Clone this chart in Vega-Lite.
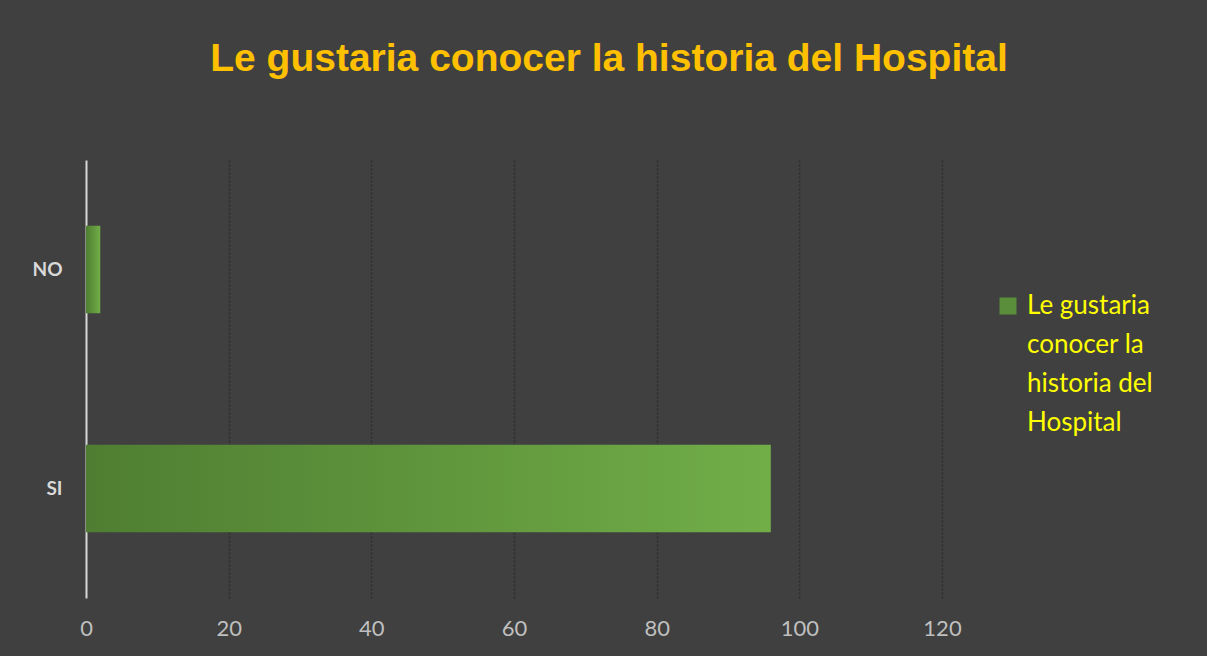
{
  "$schema": "https://vega.github.io/schema/vega-lite/v6.json",
  "width": 856,
  "height": 438,
  "autosize": {"type": "none"},
  "padding": {"left": 86, "top": 160, "right": 265, "bottom": 58},
  "background": "#404040",
  "title": {
    "text": "Le gustaria conocer la historia del Hospital",
    "font": "Liberation Sans, Arial, sans-serif",
    "fontSize": 39,
    "fontWeight": "bold",
    "color": "#FFC000",
    "anchor": "middle",
    "frame": "group",
    "baseline": "alphabetic",
    "offset": 50,
    "dx": 95
  },
  "data": {
    "values": [
      {"respuesta": "NO", "valor": 2, "serie": "Le gustaria conocer la historia del Hospital"},
      {"respuesta": "SI", "valor": 96, "serie": "Le gustaria conocer la historia del Hospital"}
    ]
  },
  "encoding": {
    "y": {
      "field": "respuesta",
      "type": "nominal",
      "sort": ["NO", "SI"],
      "scale": {"paddingInner": 0.6, "paddingOuter": 0.3},
      "axis": {
        "title": null,
        "ticks": false,
        "domain": true,
        "domainColor": "#d9d9d9",
        "domainWidth": 2,
        "labelColor": "#d9d9d9",
        "labelFont": "Lato",
        "labelFontSize": 19,
        "labelFontWeight": "bold",
        "labelPadding": 24,
        "grid": false
      }
    },
    "x": {
      "field": "valor",
      "type": "quantitative",
      "scale": {"domain": [0, 120], "nice": false},
      "axis": {
        "title": null,
        "values": [0, 20, 40, 60, 80, 100, 120],
        "ticks": false,
        "domain": false,
        "grid": true,
        "gridColor": "#2e2e2e",
        "gridDash": [2, 2],
        "gridWidth": 1.5,
        "labelColor": "#bfbfbf",
        "labelFont": "Lato",
        "labelFontSize": 22,
        "labelFlush": false,
        "labelPadding": 20
      }
    }
  },
  "layer": [
    {
      "mark": {
        "type": "bar",
        "color": {
          "gradient": "linear",
          "x1": 0, "y1": 0, "x2": 1, "y2": 0,
          "stops": [
            {"offset": 0, "color": "#4f7e32"},
            {"offset": 0.5, "color": "#5f953c"},
            {"offset": 1, "color": "#71ae48"}
          ]
        }
      }
    },
    {
      "mark": {"type": "bar", "opacity": 0},
      "encoding": {
        "fill": {
          "field": "serie",
          "type": "nominal",
          "scale": {"range": ["#5a8e3a"]},
          "legend": {
            "title": null,
            "orient": "none",
            "legendX": 909,
            "legendY": 133,
            "symbolType": "square",
            "symbolSize": 289,
            "symbolStrokeWidth": 0,
            "symbolOpacity": 1,
            "labelColor": "#FFFF00",
            "labelFont": "Lato",
            "labelFontSize": 26,
            "labelBaseline": "middle",
            "labelLimit": 300,
            "labelOffset": 6,
            "labelExpr": "['Le gustaria', 'conocer la', 'historia del', 'Hospital']"
          }
        }
      }
    }
  ],
  "config": {
    "view": {"stroke": null},
    "style": {"guide-label": {"lineHeight": 39}}
  }
}
